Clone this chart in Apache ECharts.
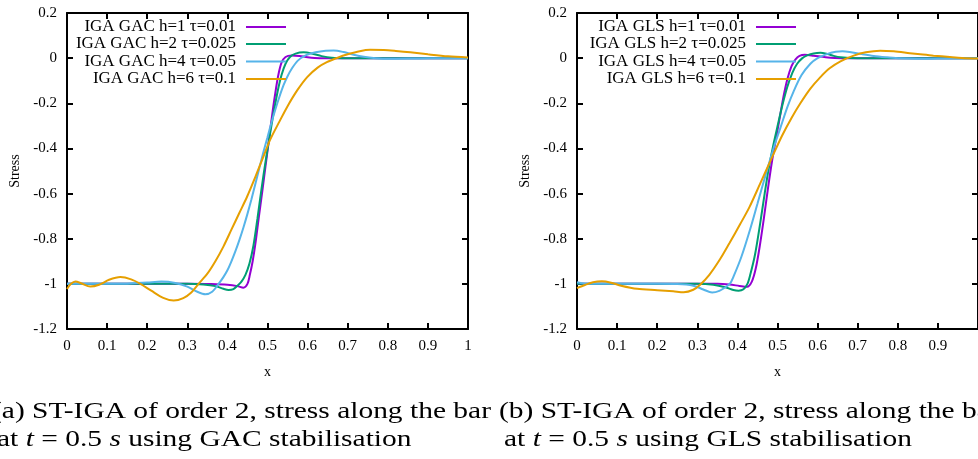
<!DOCTYPE html>
<html>
<head>
<meta charset="utf-8">
<script src="https://cdn.jsdelivr.net/npm/echarts@6/dist/echarts.min.js"></script>
<style>
  html, body { margin: 0; padding: 0; background: #fff; }
  #chart { width: 978px; height: 459px; }
</style>
</head>
<body>
<div id="chart"></div>
<script>
// Stress along the bar at t = 0.5 s, ST-IGA of order 2, two stabilisation schemes.
const xTickLabels = ['0', '0.1', '0.2', '0.3', '0.4', '0.5', '0.6', '0.7', '0.8', '0.9', '1'];
const yTickLabels = ['0.2', '0', '-0.2', '-0.4', '-0.6', '-0.8', '-1', '-1.2'];

const gacNames = ['IGA GAC h=1 τ=0.01', 'IGA GAC h=2 τ=0.025', 'IGA GAC h=4 τ=0.05', 'IGA GAC h=6 τ=0.1'];
const glsNames = ['IGA GLS h=1 τ=0.01', 'IGA GLS h=2 τ=0.025', 'IGA GLS h=4 τ=0.05', 'IGA GLS h=6 τ=0.1'];
const colors = ['#9400D3', '#009E73', '#56B4E9', '#E69F00'];

// GAC stabilisation, [x, stress]
const gacH1 = [[0,-1],[0.1,-1],[0.2,-1],[0.3,-1],[0.36,-1.001],[0.4,-1.004],[0.425,-1.01],[0.44,-1.017],[0.45,-1.0],[0.456,-0.96],[0.463,-0.9],[0.47,-0.82],[0.478,-0.71],[0.487,-0.59],[0.495,-0.48],[0.503,-0.37],[0.511,-0.26],[0.519,-0.16],[0.527,-0.075],[0.535,-0.02],[0.545,0.005],[0.56,0.012],[0.58,0.01],[0.6,0.004],[0.63,0],[0.7,0],[0.8,0],[0.9,0],[1,0]];
const gacH2 = [[0,-1],[0.1,-1],[0.2,-1],[0.3,-1],[0.34,-1.003],[0.37,-1.01],[0.39,-1.022],[0.403,-1.027],[0.415,-1.023],[0.425,-1.008],[0.435,-0.99],[0.445,-0.96],[0.455,-0.91],[0.465,-0.83],[0.475,-0.71],[0.485,-0.58],[0.495,-0.46],[0.505,-0.35],[0.515,-0.245],[0.525,-0.15],[0.535,-0.075],[0.545,-0.025],[0.556,0.005],[0.57,0.02],[0.59,0.026],[0.61,0.021],[0.635,0.009],[0.66,0.002],[0.7,0],[0.8,0],[0.9,0],[1,0]];
const gacH4 = [[0,-1],[0.1,-1],[0.15,-0.999],[0.2,-0.994],[0.235,-0.99],[0.27,-0.996],[0.3,-1.012],[0.325,-1.035],[0.345,-1.046],[0.362,-1.035],[0.378,-1.0],[0.39,-0.97],[0.4,-0.94],[0.41,-0.9],[0.42,-0.855],[0.43,-0.805],[0.44,-0.75],[0.45,-0.69],[0.46,-0.625],[0.47,-0.555],[0.48,-0.485],[0.49,-0.415],[0.5,-0.35],[0.51,-0.285],[0.52,-0.225],[0.53,-0.17],[0.54,-0.12],[0.55,-0.08],[0.56,-0.048],[0.575,-0.012],[0.595,0.012],[0.62,0.026],[0.645,0.033],[0.665,0.034],[0.69,0.027],[0.715,0.015],[0.74,0.006],[0.77,0],[0.8,-0.003],[0.85,-0.002],[0.9,0],[1,0]];
const gacH6 = [[0,-1.023],[0.01,-1.0],[0.021,-0.99],[0.035,-0.997],[0.058,-1.012],[0.08,-1.004],[0.105,-0.982],[0.133,-0.97],[0.16,-0.98],[0.183,-1.0],[0.21,-1.03],[0.24,-1.062],[0.266,-1.074],[0.29,-1.063],[0.31,-1.038],[0.328,-1.0],[0.35,-0.955],[0.37,-0.9],[0.39,-0.835],[0.41,-0.76],[0.43,-0.685],[0.449,-0.614],[0.47,-0.525],[0.49,-0.435],[0.507,-0.36],[0.53,-0.28],[0.549,-0.216],[0.574,-0.143],[0.599,-0.084],[0.625,-0.042],[0.648,-0.018],[0.675,0.002],[0.7,0.017],[0.73,0.031],[0.756,0.037],[0.79,0.036],[0.82,0.032],[0.856,0.026],[0.9,0.017],[0.95,0.008],[1,0.003]];

// GLS stabilisation, [x, stress]
const glsH1 = [[0,-1],[0.1,-1],[0.2,-1],[0.3,-1],[0.35,-1.0],[0.38,-1.003],[0.405,-1.009],[0.424,-1.013],[0.436,-0.99],[0.446,-0.93],[0.456,-0.83],[0.466,-0.71],[0.476,-0.58],[0.486,-0.46],[0.495,-0.37],[0.505,-0.27],[0.515,-0.17],[0.525,-0.09],[0.535,-0.035],[0.545,-0.005],[0.555,0.01],[0.568,0.015],[0.59,0.011],[0.62,0.004],[0.66,0],[0.8,0],[0.9,0],[1,0]];
const glsH2 = [[0,-1],[0.1,-1],[0.2,-1],[0.3,-1],[0.34,-1.004],[0.37,-1.015],[0.39,-1.027],[0.403,-1.03],[0.415,-1.024],[0.425,-1.0],[0.432,-0.96],[0.444,-0.87],[0.457,-0.73],[0.468,-0.6],[0.478,-0.49],[0.489,-0.39],[0.499,-0.31],[0.512,-0.21],[0.524,-0.13],[0.537,-0.065],[0.549,-0.025],[0.562,0],[0.574,0.012],[0.59,0.021],[0.607,0.024],[0.625,0.018],[0.64,0.01],[0.657,0.004],[0.7,0],[0.8,0],[1,0]];
const glsH4 = [[0,-0.993],[0.02,-0.999],[0.05,-1.0],[0.2,-1.0],[0.25,-1.001],[0.29,-1.008],[0.315,-1.025],[0.337,-1.038],[0.355,-1.031],[0.37,-1.015],[0.382,-0.998],[0.391,-0.965],[0.41,-0.88],[0.432,-0.757],[0.45,-0.645],[0.474,-0.495],[0.49,-0.4],[0.507,-0.31],[0.525,-0.215],[0.54,-0.148],[0.56,-0.075],[0.582,-0.025],[0.6,0],[0.623,0.018],[0.645,0.028],[0.662,0.03],[0.68,0.027],[0.71,0.018],[0.74,0.01],[0.773,0.004],[0.806,-0.001],[0.85,-0.003],[0.9,-0.002],[1,0]];
const glsH6 = [[0,-1.019],[0.02,-1.005],[0.04,-0.993],[0.062,-0.989],[0.085,-0.995],[0.11,-1.008],[0.15,-1.022],[0.2,-1.028],[0.24,-1.033],[0.266,-1.037],[0.29,-1.026],[0.307,-1.004],[0.33,-0.96],[0.357,-0.89],[0.38,-0.82],[0.407,-0.735],[0.43,-0.66],[0.457,-0.555],[0.485,-0.445],[0.511,-0.345],[0.535,-0.265],[0.557,-0.2],[0.582,-0.135],[0.607,-0.084],[0.63,-0.045],[0.657,-0.014],[0.69,0.011],[0.72,0.026],[0.756,0.033],[0.79,0.03],[0.83,0.022],[0.856,0.017],[0.889,0.011],[0.93,0.005],[0.96,0.001],[1,-0.002]];

const gacSeries = [gacH1, gacH2, gacH4, gacH6];
const glsSeries = [glsH1, glsH2, glsH4, glsH6];

const FONT = '"Liberation Serif", "Times New Roman", serif';

function tickText(labels) {
  return function (v) {
    const r = Math.round(v * 10) / 10;
    const hit = labels.find(l => parseFloat(l) === r);
    return hit !== undefined ? hit : String(r);
  };
}

const axisLineStyle = { show: true, onZero: false, lineStyle: { color: '#000', width: 2 } };
const tickStyle = { show: true, inside: true, length: 6, lineStyle: { color: '#000', width: 2 } };
const labelStyle = { fontFamily: FONT, fontSize: 15, color: '#000' };

function xAxesFor(gridIndex, hideLast) {
  return [
    {
      type: 'value', gridIndex, position: 'bottom', min: 0, max: 1, interval: 0.1,
      axisLine: axisLineStyle, axisTick: tickStyle, splitLine: { show: false },
      axisLabel: Object.assign({ margin: 10, formatter: tickText(xTickLabels), showMaxLabel: !hideLast }, labelStyle),
      name: 'x', nameLocation: 'middle', nameGap: 36,
      nameTextStyle: { fontFamily: FONT, fontSize: 14, color: '#000' }
    },
    {
      type: 'value', gridIndex, position: 'top', min: 0, max: 1, interval: 0.1,
      axisLine: axisLineStyle, axisTick: tickStyle, splitLine: { show: false },
      axisLabel: { show: false }
    }
  ];
}

function yAxesFor(gridIndex) {
  return [
    {
      type: 'value', gridIndex, position: 'left', min: -1.2, max: 0.2, interval: 0.2,
      axisLine: axisLineStyle, axisTick: tickStyle, splitLine: { show: false },
      axisLabel: Object.assign({ margin: 10, formatter: tickText(yTickLabels) }, labelStyle),
      name: 'Stress', nameLocation: 'middle', nameGap: 45, nameRotate: 90,
      nameTextStyle: { fontFamily: FONT, fontSize: 14, color: '#000' }
    },
    {
      type: 'value', gridIndex, position: 'right', min: -1.2, max: 0.2, interval: 0.2,
      axisLine: axisLineStyle, axisTick: tickStyle, splitLine: { show: false },
      axisLabel: { show: false }
    }
  ];
}

function buildSeries(names, data, axisIndex) {
  return names.map((name, i) => ({
    name, type: 'line', data: data[i],
    xAxisIndex: axisIndex, yAxisIndex: axisIndex,
    symbol: 'none', smooth: 0.3, clip: true,
    lineStyle: { color: colors[i], width: 2 },
    itemStyle: { color: colors[i] }
  }));
}

// one legend box per entry so the text is right-aligned against a common line sample
const legendRowCentres = [27, 44, 61.5, 79];
function buildLegends(names, rightEdge) {
  return names.map((name, i) => ({
    data: [name], orient: 'horizontal', align: 'right',
    right: rightEdge, top: legendRowCentres[i] - 9,
    padding: 0, icon: 'rect', itemWidth: 40, itemHeight: 2, selectedMode: false,
    textStyle: { fontFamily: FONT, fontSize: 17, color: '#000', lineHeight: 18, padding: [0, 5, 0, 0] }
  }));
}

const captionStyle = { fontFamily: FONT, fontSize: 24, fill: '#000', verticalAlign: 'middle', align: 'left' };
const italic = { fontFamily: FONT, fontSize: 24, fontStyle: 'italic', fill: '#000' };

function caption(x, y, text) {
  return {
    type: 'text', x, y, scaleX: 1.228, scaleY: 1,
    style: Object.assign({ text, rich: { i: italic, r: { fontFamily: FONT, fontSize: 24, fill: '#000' } } }, captionStyle)
  };
}

const option = {
  animation: false,
  backgroundColor: '#fff',
  grid: [
    { left: 67, top: 13, width: 401, height: 316 },
    { left: 577, top: 13, width: 402, height: 316 }
  ],
  xAxis: [...xAxesFor(0, false), ...xAxesFor(1, true)],
  yAxis: [...yAxesFor(0), ...yAxesFor(1)],
  legend: [...buildLegends(gacNames, 978 - 286), ...buildLegends(glsNames, 978 - 796)],
  series: [...buildSeries(gacNames, gacSeries, 0), ...buildSeries(glsNames, glsSeries, 2)],
  graphic: [
    caption(-8, 412, '{r|(a) ST-IGA of order 2, stress along the bar}'),
    caption(-3, 440, '{r|at }{i|t}{r| = 0.5 }{i|s}{r| using GAC stabilisation}'),
    caption(499, 412, '{r|(b) ST-IGA of order 2, stress along the bar}'),
    caption(504, 440, '{r|at }{i|t}{r| = 0.5 }{i|s}{r| using GLS stabilisation}')
  ]
};

const chart = echarts.init(document.getElementById('chart'), null, { renderer: 'canvas' });
chart.setOption(option);
</script>
</body>
</html>
